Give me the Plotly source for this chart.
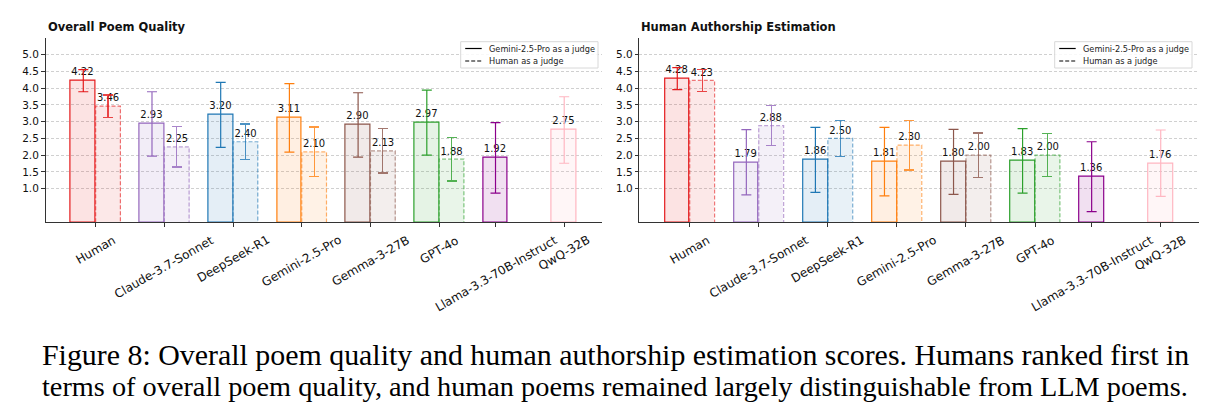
import plotly.graph_objects as go

# ---------------- data ----------------
models = ["Human", "Claude-3.7-Sonnet", "DeepSeek-R1", "Gemini-2.5-Pro",
          "Gemma-3-27B", "GPT-4o", "Llama-3.3-70B-Instruct", "QwQ-32B"]
colors = ["#e41a1c", "#9467bd", "#1f77b4", "#ff7f0e",
          "#8c564b", "#2ca02c", "#8b008b", "#ffb6c1"]

quality_gemini = [4.22, 2.93, 3.20, 3.11, 2.90, 2.97, 1.92, 2.75]
quality_gemini_err = [0.33, 0.96, 0.97, 1.02, 0.96, 0.97, 1.05, 0.99]
quality_human = [3.46, 2.25, 2.40, 2.10, 2.13, 1.88]
quality_human_err = [0.33, 0.60, 0.53, 0.74, 0.66, 0.65]

author_gemini = [4.28, 1.79, 1.86, 1.81, 1.80, 1.83, 1.36, 1.76]
author_gemini_err = [0.33, 0.97, 0.97, 1.02, 0.97, 0.96, 1.04, 0.99]
author_human = [4.23, 2.88, 2.50, 2.30, 2.00, 2.00]
author_human_err = [0.33, 0.59, 0.53, 0.74, 0.66, 0.64]

y_ticks = [1.0, 1.5, 2.0, 2.5, 3.0, 3.5, 4.0, 4.5, 5.0]
titles = ["Overall Poem Quality", "Human Authorship Estimation"]
legend_labels = ["Gemini-2.5-Pro as a judge", "Human as a judge"]
caption = ["Figure 8: Overall poem quality and human authorship estimation scores. Humans ranked first in",
           "terms of overall poem quality, and human poems remained largely distinguishable from LLM poems."]

# ---------------- helpers ----------------
W = 0.36
FIG_W, FIG_H = 1218, 420
DASH = "4px,2px"


def rgba(hexc, a):
    h = hexc.lstrip("#")
    r, g, b = int(h[0:2], 16), int(h[2:4], 16), int(h[4:6], 16)
    return f"rgba({r},{g},{b},{a})"


def px_x(p):
    return p / FIG_W


def px_y(p):
    return 1 - p / FIG_H


fig = go.Figure()
annotations = []
shapes = []


def add_panel(xa, ya, g_vals, g_err, h_vals, h_err):
    tickpos = []
    for i, m in enumerate(models):
        c = colors[i]
        has_h = i < len(h_vals)
        xs = i - W / 2
        tickpos.append(i if has_h else xs)
        fig.add_trace(go.Bar(
            x=[xs], y=[g_vals[i]], width=W, xaxis=xa, yaxis=ya,
            marker=dict(color=rgba(c, 0.12), line=dict(color=c, width=1.2)),
            error_y=dict(type="data", array=[g_err[i]], color=c, thickness=1.2, width=5),
            text=[f"{g_vals[i]:.2f}"], textposition="outside", constraintext="none",
            textfont=dict(size=10, color="#111"), cliponaxis=False,
            showlegend=False, hoverinfo="skip"))
        if has_h:
            xh = i + W / 2
            v = h_vals[i]
            fig.add_trace(go.Bar(
                x=[xh], y=[v], width=W, xaxis=xa, yaxis=ya,
                marker=dict(color=rgba(c, 0.10), line=dict(width=0)),
                error_y=dict(type="data", array=[h_err[i]], color=rgba(c, 0.8), thickness=1.2, width=5),
                text=[f"{v:.2f}"], textposition="outside", constraintext="none",
                textfont=dict(size=10, color="#111"), cliponaxis=False,
                showlegend=False, hoverinfo="skip"))
            fig.add_trace(go.Scatter(
                x=[xh - W / 2, xh - W / 2, xh + W / 2, xh + W / 2], y=[0, v, v, 0],
                xaxis=xa, yaxis=ya, mode="lines",
                line=dict(color=rgba(c, 0.6), width=1.2, dash=DASH),
                showlegend=False, hoverinfo="skip"))
    # centred, rotated category labels (matplotlib style)
    for pos, m in zip(tickpos, models):
        annotations.append(dict(text=m, x=pos, y=0, xref=xa, yref=ya, xanchor="center",
                                yanchor="top", yshift=-8, textangle=-30, showarrow=False,
                                font=dict(size=12, color="#111")))
    return tickpos


ticks1 = add_panel("x", "y", quality_gemini, quality_gemini_err, quality_human, quality_human_err)
ticks2 = add_panel("x2", "y2", author_gemini, author_gemini_err, author_human, author_human_err)

# ---------------- legends (drawn in the matplotlib style) ----------------
for right in [598, 1192]:
    left = right - 137.3
    shapes.append(dict(type="rect", xref="paper", yref="paper",
                       x0=px_x(left), x1=px_x(right), y0=px_y(68), y1=px_y(41.7),
                       line=dict(color="#d8d8d8", width=1), fillcolor="rgba(255,255,255,0.85)"))
    for k, (lab, dash) in enumerate(zip(legend_labels, ["solid", DASH])):
        yy = 48.5 + k * 12.5
        shapes.append(dict(type="line", xref="paper", yref="paper",
                           x0=px_x(left + 4.5), x1=px_x(left + 21), y0=px_y(yy), y1=px_y(yy),
                           line=dict(color="black", width=1.2, dash=dash)))
        annotations.append(dict(text=lab, x=px_x(left + 26.5), y=px_y(yy), xref="paper", yref="paper",
                                xanchor="left", yanchor="middle", showarrow=False,
                                font=dict(size=8.2, color="#222")))

# ---------------- layout ----------------
dom_y = [px_y(222.3), px_y(37.7)]
dom1 = [px_x(45.5), px_x(602)]
dom2 = [px_x(639.3), px_x(1198.7)]

xcommon = dict(range=[-0.73, 7.37], showline=True, linecolor="#333", linewidth=1,
               ticks="outside", ticklen=3.5, tickcolor="#333", showgrid=False, zeroline=False,
               showticklabels=False)
ycommon = dict(range=[0, 5.5], showline=True, linecolor="#333", linewidth=1,
               ticks="outside", ticklen=3.5, tickcolor="#333", zeroline=False,
               tickvals=y_ticks, ticktext=[f"{t:.1f}" for t in y_ticks],
               showgrid=True, gridcolor="#d0d0d0", gridwidth=0.8, griddash="3px,2px",
               tickfont=dict(size=10.5, color="#111"))

annotations += [
    dict(text=f"<b>{titles[0]}</b>", x=dom1[0], y=px_y(27), xref="paper", yref="paper",
         xanchor="left", yanchor="middle", showarrow=False, font=dict(size=11.5, color="#111")),
    dict(text=f"<b>{titles[1]}</b>", x=dom2[0], y=px_y(27), xref="paper", yref="paper",
         xanchor="left", yanchor="middle", showarrow=False, font=dict(size=11.5, color="#111")),
    dict(text=caption[0], x=px_x(40), y=px_y(354), xref="paper", yref="paper",
         xanchor="left", yanchor="middle", showarrow=False,
         font=dict(family="Liberation Serif", size=29.9, color="black")),
    dict(text=caption[1], x=px_x(40), y=px_y(386), xref="paper", yref="paper",
         xanchor="left", yanchor="middle", showarrow=False,
         font=dict(family="Liberation Serif", size=28.3, color="black")),
]

fig.update_layout(
    width=FIG_W, height=FIG_H, margin=dict(l=0, r=0, t=0, b=0),
    paper_bgcolor="white", plot_bgcolor="white",
    font=dict(family="DejaVu Sans", color="#222"),
    barmode="overlay", bargap=0, showlegend=False,
    xaxis=dict(domain=dom1, anchor="y", tickvals=ticks1, **xcommon),
    yaxis=dict(domain=dom_y, anchor="x", **ycommon),
    xaxis2=dict(domain=dom2, anchor="y2", tickvals=ticks2, **xcommon),
    yaxis2=dict(domain=dom_y, anchor="x2", **ycommon),
    annotations=annotations, shapes=shapes,
)

fig.write_html("out.html")
